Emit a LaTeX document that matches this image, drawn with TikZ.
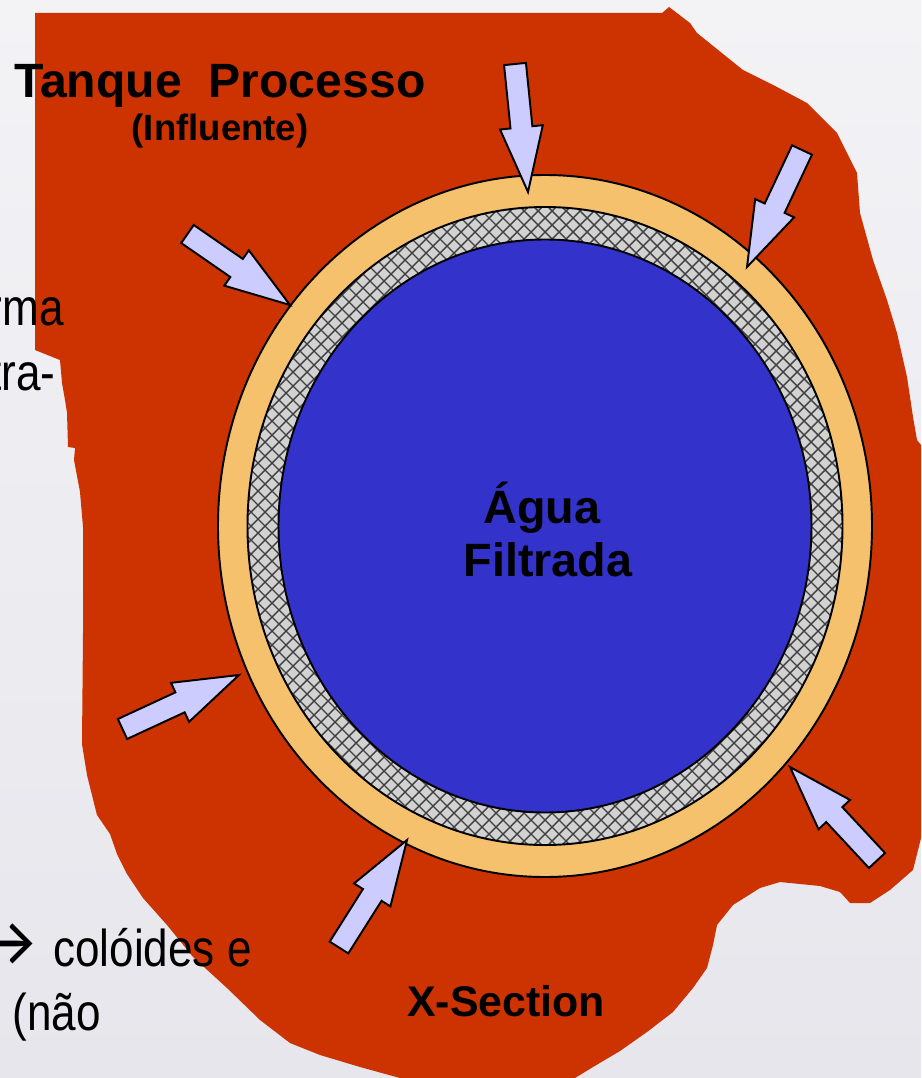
\documentclass[tikz,border=0pt]{standalone}
\usepackage{fontspec}
\setmainfont{Liberation Sans}
\newfontfamily\slidefont[FakeStretch=0.85]{Liberation Sans}
\newfontfamily\arrowfont{Lato}
\usetikzlibrary{calc}

\definecolor{tank}{HTML}{CC3300}
\definecolor{cake}{HTML}{F6C16C}
\definecolor{mesh}{HTML}{D2D2D2}
\definecolor{filtrate}{HTML}{3333CC}
\definecolor{inflow}{HTML}{CCCCFF}
\definecolor{slidetop}{HTML}{F3F3F6}
\definecolor{slidebot}{HTML}{E6E6EC}

\begin{document}
\begin{tikzpicture}[x=0.02cm,y=-0.02cm,
  ring/.style={draw=black,line width=1.1pt},
  influx/.style={fill=inflow,draw=black,line width=1.1pt,line join=miter},
  hatch/.style={black!75,line width=0.8pt},
  tag/.style={inner sep=0pt,font=\bfseries\fontsize{26.6}{30}\selectfont},
  subtag/.style={inner sep=0pt,font=\bfseries\fontsize{20.8}{24}\selectfont},
  slidetext/.style={inner sep=0pt,font=\slidefont\fontsize{29.5}{35}\selectfont}]
\def\shaftw{0.22cm}
\def\headw{0.43cm}
\def\headl{1.3cm}

\useasboundingbox (0,0) rectangle (921,1078);
\clip (0,0) rectangle (921,1078);
\shade[top color=slidetop,bottom color=slidebot] (0,0) rectangle (921,1078);

% tank outline
\fill[tank] (35,13) -- (662,13) -- (669,7) -- (690,23) -- (697,33) -- (743,70)
  -- (777,87) -- (807,103) -- (837,133) -- (857,173) -- (860,213) -- (873,260)
  -- (887,300) -- (897,333) -- (907,377) -- (913,417) -- (917,440) -- (921,445)
  -- (921,838) -- (917,854) -- (913,870) -- (890,890) -- (870,903) -- (850,903)
  -- (840,892) -- (820,886) -- (780,882) -- (760,888) -- (733,905) -- (717,925)
  -- (713,945) -- (707,968) -- (693,988) -- (673,1012) -- (647,1032) -- (620,1051)
  -- (593,1067) -- (575,1078) -- (400,1078) -- (360,1067) -- (320,1055) -- (290,1043)
  -- (260,1020) -- (227,988) -- (193,957) -- (167,925) -- (143,898) -- (127,874)
  -- (117,854) -- (110,834) -- (97,815) -- (87,775) -- (82,744) -- (83,633)
  -- (83,527) -- (80,492) -- (74,460) -- (75,448) -- (68,447) -- (67,413)
  -- (65,400) -- (62,383) -- (60,360) -- (35,350) -- cycle;

% cross-section of the element
\coordinate (core) at (545,526);
\filldraw[ring,fill=cake] (core) ellipse [x radius=327, y radius=351];
\begin{scope}
  \clip (core) ellipse [x radius=297.5, y radius=319];
  \fill[mesh] (core) ellipse [x radius=297.5, y radius=319];
  \foreach \k in {-46,...,46} {
    \draw[hatch] ({545+\k*14-400},126) -- ++(800,800);
    \draw[hatch] ({545+\k*14-400},926) -- ++(800,-800);
  }
\end{scope}
\draw[ring] (core) ellipse [x radius=297.5, y radius=319];
\filldraw[ring,fill=filtrate] (core) ellipse [x radius=266.5, y radius=286.5];

\newcommand{\inflow}[2]{%
  \coordinate (#2-base) at ($(#2)!\headl!(#1)$);
  \draw[influx] ($(#1)!\shaftw!90:(#2)$) -- ($(#2-base)!\shaftw!90:(#2)$)
    -- ($(#2-base)!\headw!90:(#2)$) -- (#2) -- ($(#2-base)!\headw!-90:(#2)$)
    -- ($(#2-base)!\shaftw!-90:(#2)$) -- ($(#1)!\shaftw!-90:(#2)$) -- cycle;
}
\coordinate (n-tail) at (515,64);      \coordinate (n-tip) at (528,192);
\coordinate (ne-tail) at (802,150);    \coordinate (ne-tip) at (747,267);
\coordinate (nw-tail) at (187.5,234);  \coordinate (nw-tip) at (290,305);
\coordinate (w-tail) at (122.5,729);   \coordinate (w-tip) at (239,675);
\coordinate (s-tail) at (339,947.5);   \coordinate (s-tip) at (407,840);
\coordinate (se-tail) at (877,860.5);  \coordinate (se-tip) at (790,767);
\foreach \dir in {n,ne,nw,w,s,se} {
  \inflow{\dir-tail}{\dir-tip}
}

\node[tag,font=\bfseries\fontsize{27.4}{31}\selectfont,anchor=base west] (tanque) at (14,97) {Tanque\ \ Processo};
\node[subtag,anchor=base] (influente) at (220,140) {(Influente)};
\node[tag,anchor=base] (agua) at (542,523) {Água};
\node[tag,anchor=base] (filtrada) at (548,576) {Filtrada};
\node[tag,font=\bfseries\fontsize{24.4}{28}\selectfont,anchor=base west] (xsection) at (407,1016) {X-Section};

\node[slidetext,anchor=base east] (rma) at (64,325) {rma};
\node[slidetext,anchor=base east] (tra) at (56,390) {tra-};
\node[inner sep=0pt,font=\arrowfont\fontsize{40}{40}\selectfont,anchor=base east] (bullet) at (37,966) {→};
\node[slidetext,anchor=base west] (coloides) at (53,966) {colóides e};
\node[slidetext,anchor=base west] (nao) at (12,1030) {(não};
\end{tikzpicture}
\end{document}
